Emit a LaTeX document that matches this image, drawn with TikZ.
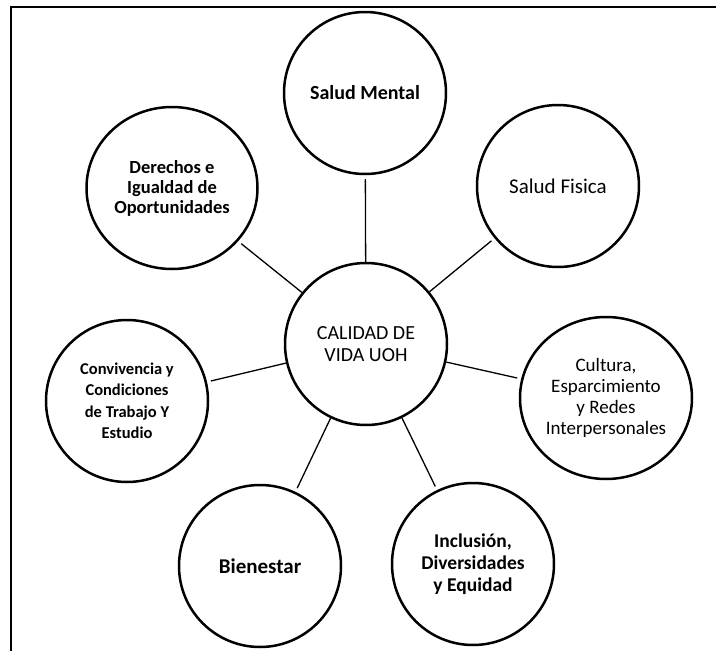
\documentclass[tikz,border=0pt]{standalone}
\usepackage{fontspec}
\setmainfont{Carlito}
\usetikzlibrary{shapes.geometric}
\begin{document}
\begin{tikzpicture}[x=1pt,y=-1pt]
    \tikzstyle{cnode}=[ellipse, draw=black, line width=2.5pt, minimum width=162pt, minimum height=162pt, align=center, inner sep=0pt, font=\fontsize{19}{21}\selectfont]
    \tikzstyle{bnode}=[cnode, font=\fontsize{20}{21}\selectfont\bfseries]
    \tikzstyle{mlink}=[line width=1.3pt, shorten >=4pt]
    \tikzstyle{frame}=[line width=2.5pt]

    \useasboundingbox (0,0) rectangle (716,651);
    \draw[frame] (11,700) -- (11,7) -- (730,7);

    \node[cnode, font=\fontsize{20}{21.5}\selectfont] (uoh) at (366,344) {CALIDAD DE\\VIDA UOH};
    \node[bnode] (mental) at (365,93) {Salud Mental};
    \node[cnode, font=\fontsize{21}{21}\selectfont] (fisica) at (558,186) {Salud Fisica};
    \node[bnode, minimum width=171pt, font=\fontsize{18.5}{20}\selectfont\bfseries] (derechos) at (172,188) {Derechos e\\Igualdad de\\Oportunidades};
    \node[bnode, font=\fontsize{16.5}{21.5}\selectfont\bfseries] (conv) at (127,401) {Convivencia y\\Condiciones\\de Trabajo Y\\Estudio};
    \node[cnode, minimum width=172pt] (cultura) at (606,398) {Cultura,\\Esparcimiento\\y Redes\\Interpersonales};
    \node[bnode, font=\fontsize{21}{21}\selectfont\bfseries] (bien) at (260,566) {Bienestar};
    \node[bnode, font=\fontsize{19.5}{22}\selectfont\bfseries] (incl) at (473,564) {Inclusión,\\Diversidades\\y Equidad};

    \foreach \n in {mental,fisica,derechos,conv,cultura,bien,incl}
        \draw[mlink] (uoh) -- (\n);
\end{tikzpicture}
\end{document}
